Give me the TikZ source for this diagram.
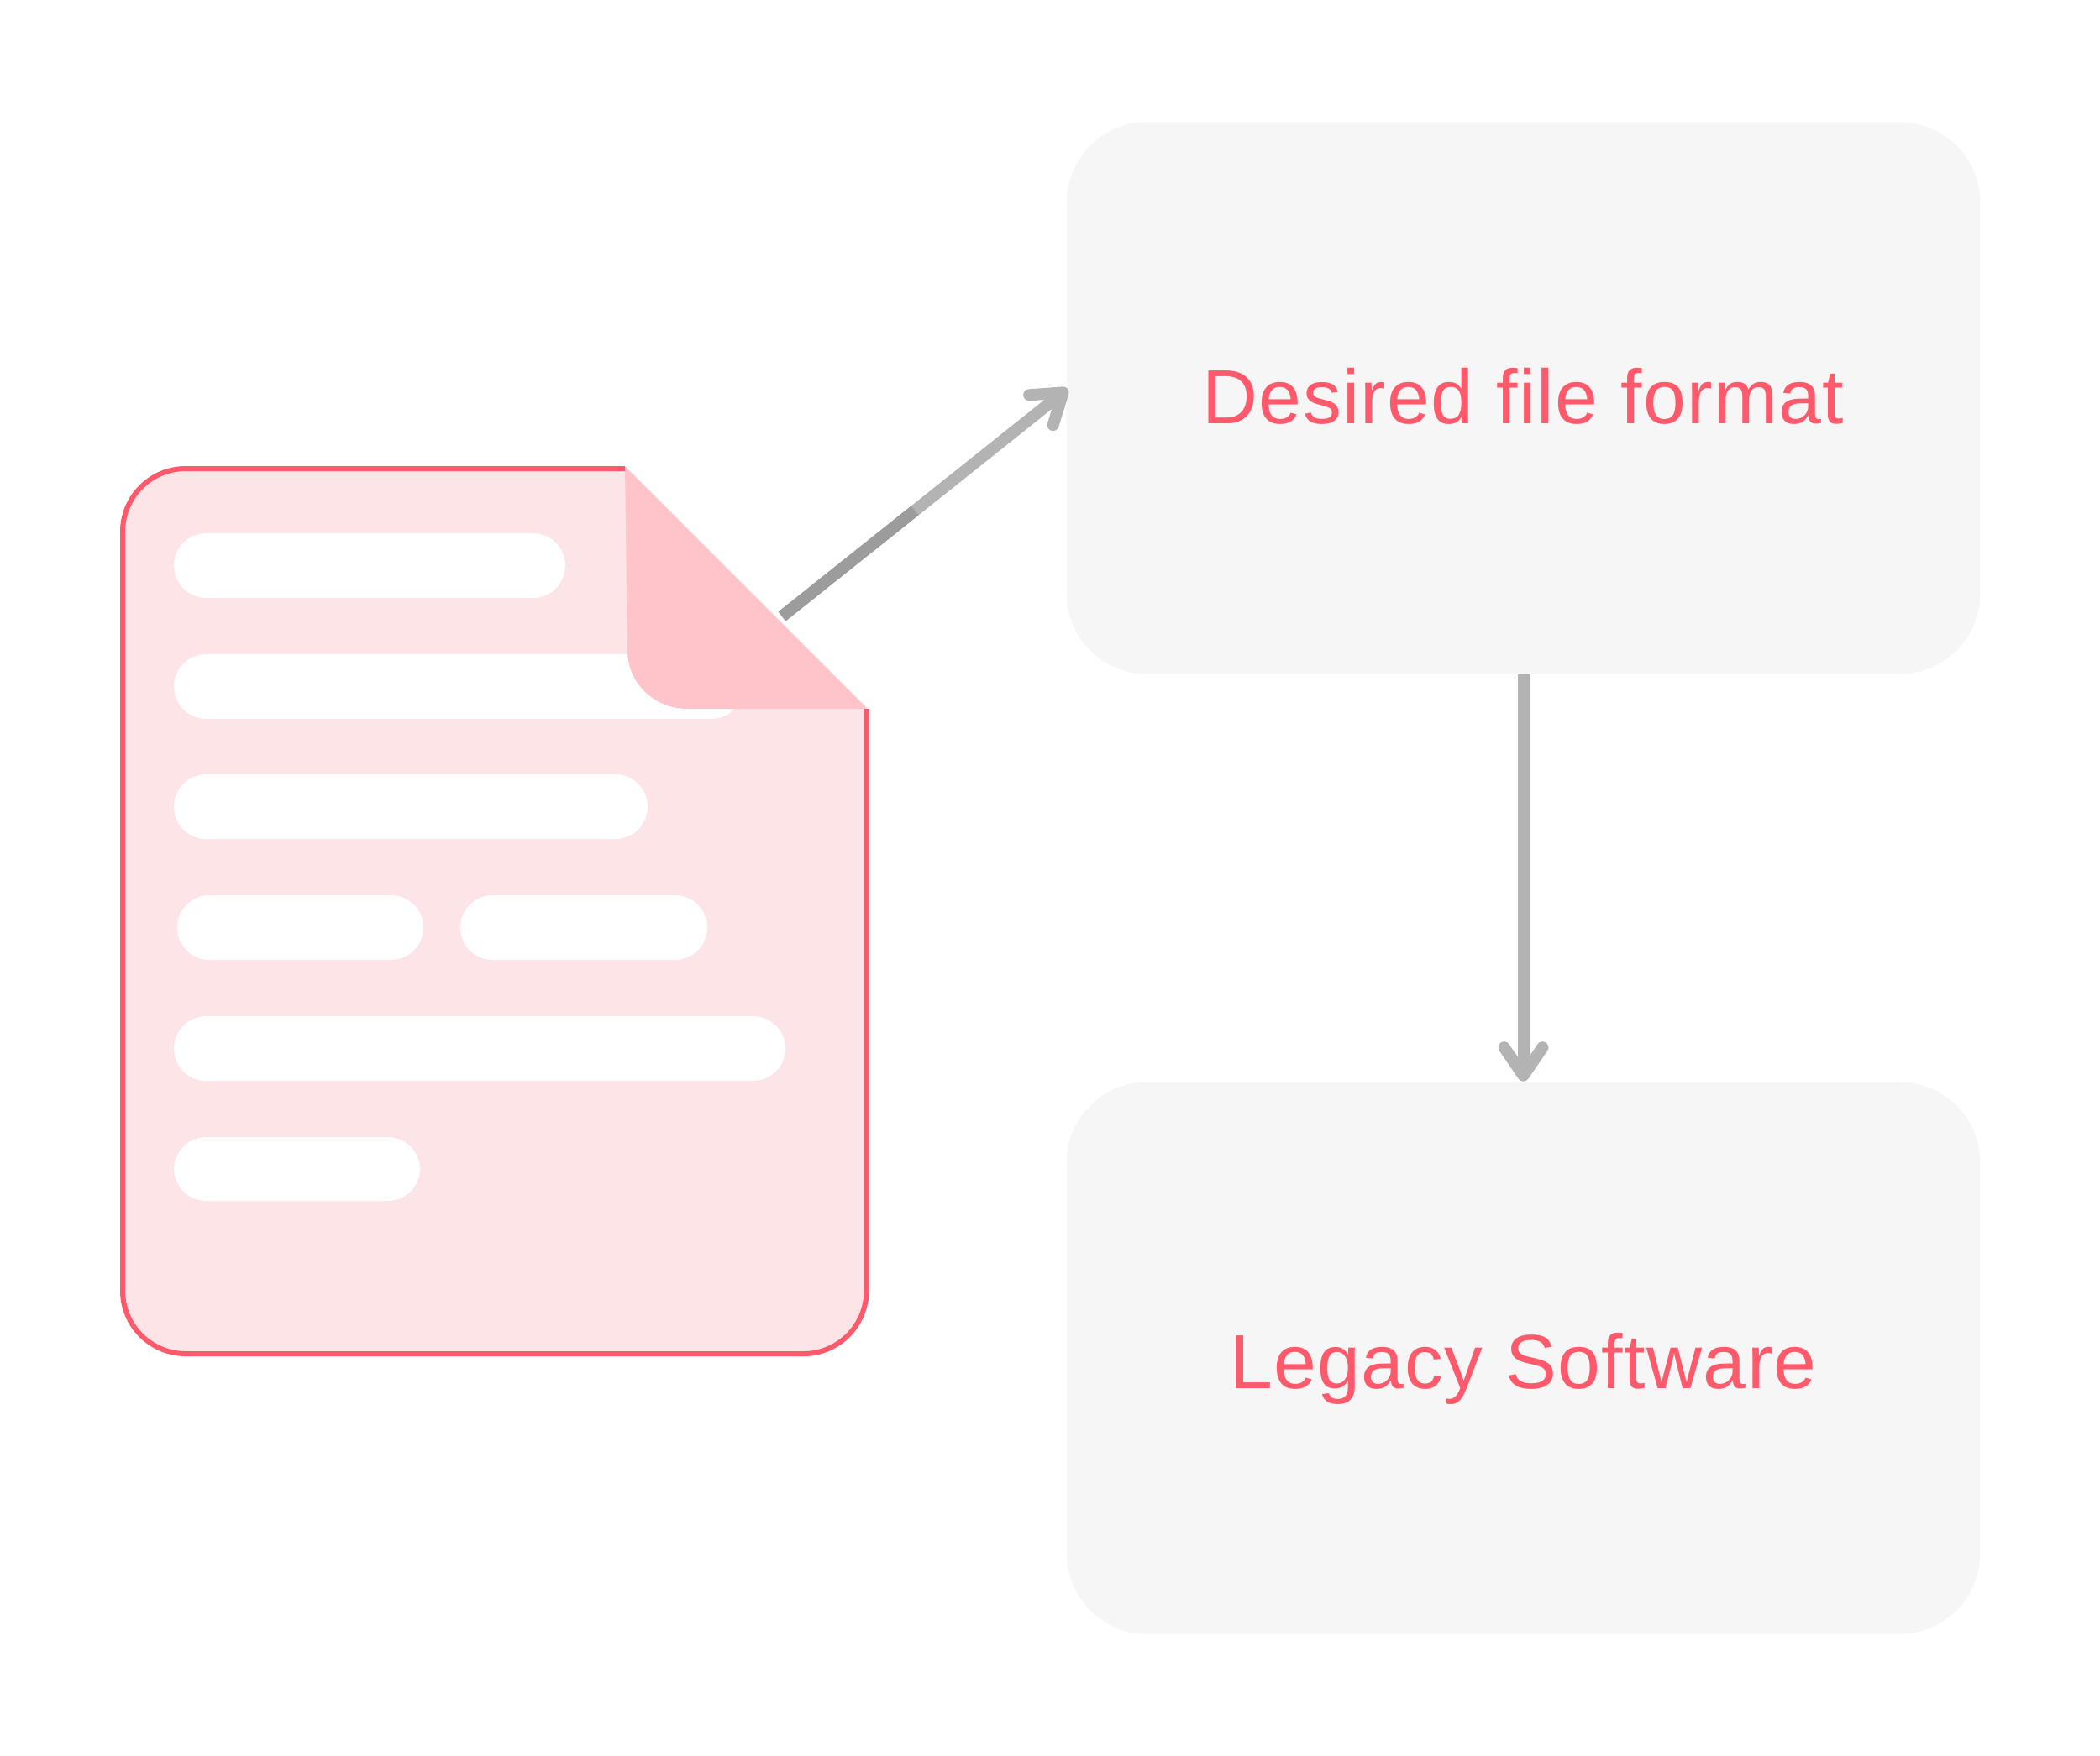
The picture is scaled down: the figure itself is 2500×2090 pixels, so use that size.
\documentclass[tikz,border=0pt]{standalone}
\usepackage{fontspec}
\setmainfont[LetterSpace=1.5]{Liberation Sans}
\usetikzlibrary{arrows.meta,positioning}
\definecolor{docfill}{HTML}{FCE4E7}
\definecolor{docline}{HTML}{FF5A6B}
\definecolor{docfold}{HTML}{FFC4CA}
\definecolor{boxfill}{HTML}{F6F6F6}
\definecolor{arrowgray}{HTML}{B3B3B3}
\definecolor{arrowdark}{HTML}{9C9C9C}

\begin{document}
\begin{tikzpicture}[
  x=0.01cm, y=-0.01cm,
  box/.style={fill=boxfill, rounded corners=0.96cm, minimum width=10.87cm, minimum height=6.57cm, inner sep=0pt},
  boxtext/.style={font=\fontsize{26}{30}\selectfont, text=docline},
  pill/.style={fill=white, rounded corners=0.385cm},
  arrow/.style={-{Straight Barb[round, length=9.5pt, width=13pt]}, line width=0.14cm, arrowgray},
  shaft/.style={line width=0.14cm, arrowdark}
]
  \useasboundingbox (0,0) rectangle (2500,2090);

  % Boxes
  \node[box] (desired) at (1813.5,474) {};
  \node[box, below=4.84cm of desired] (legacy) {};
  \node[boxtext] (desiredtext) at (1813.5,472) {Desired file format};
  \node[boxtext] (legacytext) at (1813.5,1630) {Legacy Software};

  % Document
  \fill[docfill] (744,558) [rounded corners=0.75cm] -- (146,558) -- (146,1612) -- (1031.5,1612) [sharp corners] -- (1031.5,844) -- cycle;

  % Text lines
  \fill[pill] (207,635) rectangle (673,712);
  \fill[pill] (207,779) rectangle (885,856);
  \fill[pill] (207,922) rectangle (771,999);
  \fill[pill] (211,1066) rectangle (504,1143);
  \fill[pill] (548,1066) rectangle (842,1143);
  \fill[pill] (207,1210) rectangle (935,1287);
  \fill[pill] (207,1354) rectangle (500,1430);

  % Fold
  \fill[docfold] (744,555) -- (1033,844) -- (818,844) .. controls (779,844) and (747,813) .. (747,775) -- cycle;

  % Outline
  \draw[docline, line width=0.06cm] (744,558) [rounded corners=0.75cm] -- (146,558) -- (146,1612) -- (1031.5,1612) [sharp corners] -- (1031.5,844);

  % Arrows
  \coordinate (filefold) at (931,734);
  \coordinate (fileturn) at (1089,608);
  \coordinate (desiredin) at (1271,463);
  \draw[arrow] (filefold) -- (desiredin);
  \draw[shaft] (filefold) -- (fileturn);
  \draw[arrow] (desired.south) -- (legacy.north);
\end{tikzpicture}
\end{document}
